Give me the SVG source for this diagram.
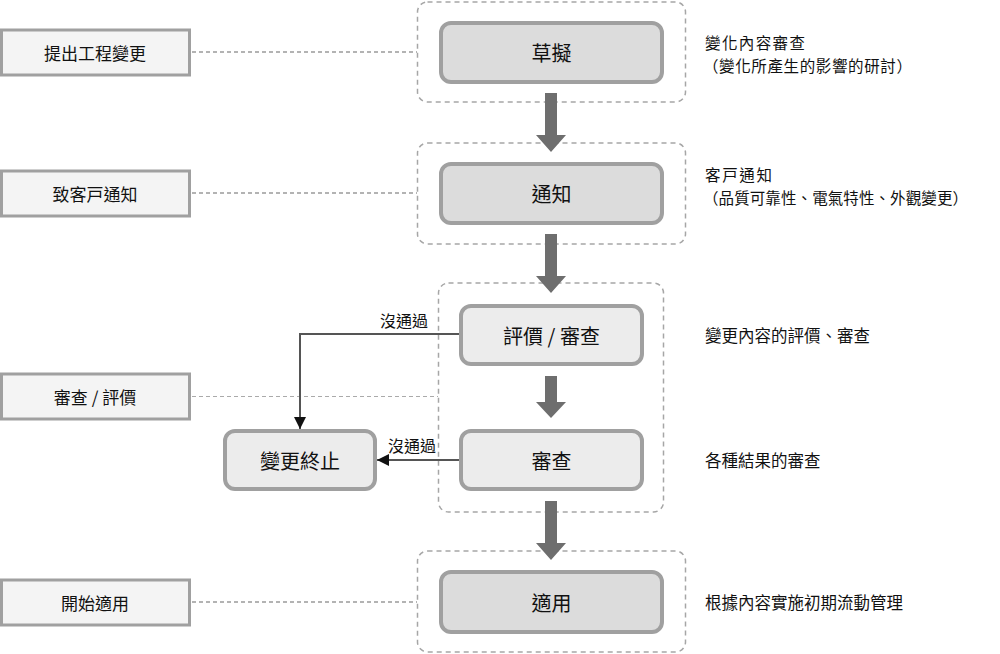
<svg xmlns="http://www.w3.org/2000/svg" width="1000" height="654" viewBox="0 0 1000 654">
<style>
text{font-family:"Noto Sans CJK TC","Noto Sans CJK JP",sans-serif;fill:#111;dominant-baseline:central}
.side rect{fill:#f4f4f4;stroke:#a0a0a0;stroke-width:3}
.side text{font-size:17px;text-anchor:middle}
.cont{fill:none;stroke:#a6a6a6;stroke-width:1.5;stroke-dasharray:5 4}
.step rect{stroke:#a0a0a0;stroke-width:4}
.dark rect{fill:#dcdcdc}
.light rect{fill:#ececec}
.step text{font-size:20px;text-anchor:middle}
.desc{font-size:16.5px}
.desc2{font-size:15.5px}
.guide{fill:none;stroke:#9a9a9a;stroke-width:1.5;stroke-dasharray:4 3}
.big{fill:#6e6e6e}
.thin{fill:none;stroke:#555;stroke-width:2}
.lbl{font-size:16px;text-anchor:end}
</style>
<defs>
<marker id="ah" markerUnits="userSpaceOnUse" markerWidth="12" markerHeight="12" viewBox="0 0 10 10" refX="10" refY="5" orient="auto">
<path d="M0,0 L10,5 L0,10 Z" fill="#111"/>
</marker>
</defs>

<g id="containers">
<rect class="cont" x="417.5" y="2" width="268" height="100" rx="10"/>
<rect class="cont" x="417.5" y="143" width="268" height="101" rx="10"/>
<rect class="cont" x="438.5" y="283" width="225" height="229" rx="10"/>
<rect class="cont" x="417.5" y="551" width="268" height="101" rx="10"/>
</g>

<g id="connectors">
<line class="guide" x1="192" y1="52" x2="417" y2="52"/>
<line class="guide" x1="192" y1="193" x2="417" y2="193"/>
<line class="guide" x1="192" y1="396.5" x2="438" y2="396.5" style="stroke:#aaa;stroke-width:1.2"/>
<line class="guide" x1="192" y1="602" x2="417" y2="602"/>
<path class="big" d="M545,93 H557 V135 H566 L551,152 L536,135 H545 Z"/>
<path class="big" d="M545,234 H557 V276 H566 L551,293 L536,276 H545 Z"/>
<path class="big" d="M545,376 H557 V402 H566 L551,418 L536,402 H545 Z"/>
<path class="big" d="M545,501 H557 V543 H566 L551,560 L536,543 H545 Z"/>
<path class="thin" d="M460,334 H300 V429" marker-end="url(#ah)"/>
<path class="thin" d="M460,460 H377" marker-end="url(#ah)"/>
<text class="lbl" x="428" y="320">沒通過</text>
<text class="lbl" x="436" y="445">沒通過</text>
</g>

<g id="side1" class="side"><rect x="1.5" y="30" width="188" height="45"/><text x="95" y="52">提出工程變更</text></g>
<g id="side2" class="side"><rect x="1.5" y="171" width="188" height="45"/><text x="95" y="193">致客戸通知</text></g>
<g id="side3" class="side"><rect x="1.5" y="374" width="188" height="45"/><text x="95" y="396">審查 / 評價</text></g>
<g id="side4" class="side"><rect x="1.5" y="580" width="188" height="45"/><text x="95" y="602">開始適用</text></g>

<g id="draft" class="step dark"><rect x="441" y="23" width="221" height="59" rx="10"/><text x="551.5" y="52">草擬</text></g>
<g id="notify" class="step dark"><rect x="441" y="164" width="221" height="59" rx="10"/><text x="551.5" y="193">通知</text></g>
<g id="evaluate" class="step light"><rect x="461" y="306" width="181" height="58" rx="10"/><text x="551.5" y="335">評價 / 審查</text></g>
<g id="review" class="step light"><rect x="461" y="431" width="181" height="58" rx="10"/><text x="551.5" y="460">審查</text></g>
<g id="terminate" class="step light"><rect x="225" y="431" width="150" height="58" rx="10"/><text x="300" y="460">變更終止</text></g>
<g id="apply" class="step dark"><rect x="441" y="572" width="221" height="60" rx="10"/><text x="551.5" y="602">適用</text></g>

<g id="descriptions">
<text class="desc2" x="705" y="42" textLength="100" lengthAdjust="spacing">變化內容審查</text>
<text class="desc2" x="703" y="64.5" textLength="209" lengthAdjust="spacing">（變化所產生的影響的研討）</text>
<text class="desc2" x="705" y="174" textLength="67" lengthAdjust="spacing">客戸通知</text>
<text class="desc2" x="703" y="196.5" textLength="265" lengthAdjust="spacing">（品質可靠性、電氣特性、外觀變更）</text>
<text class="desc" x="705" y="335">變更內容的評價、審查</text>
<text class="desc" x="705" y="460">各種結果的審查</text>
<text class="desc" x="705" y="602">根據內容實施初期流動管理</text>
</g>
</svg>
